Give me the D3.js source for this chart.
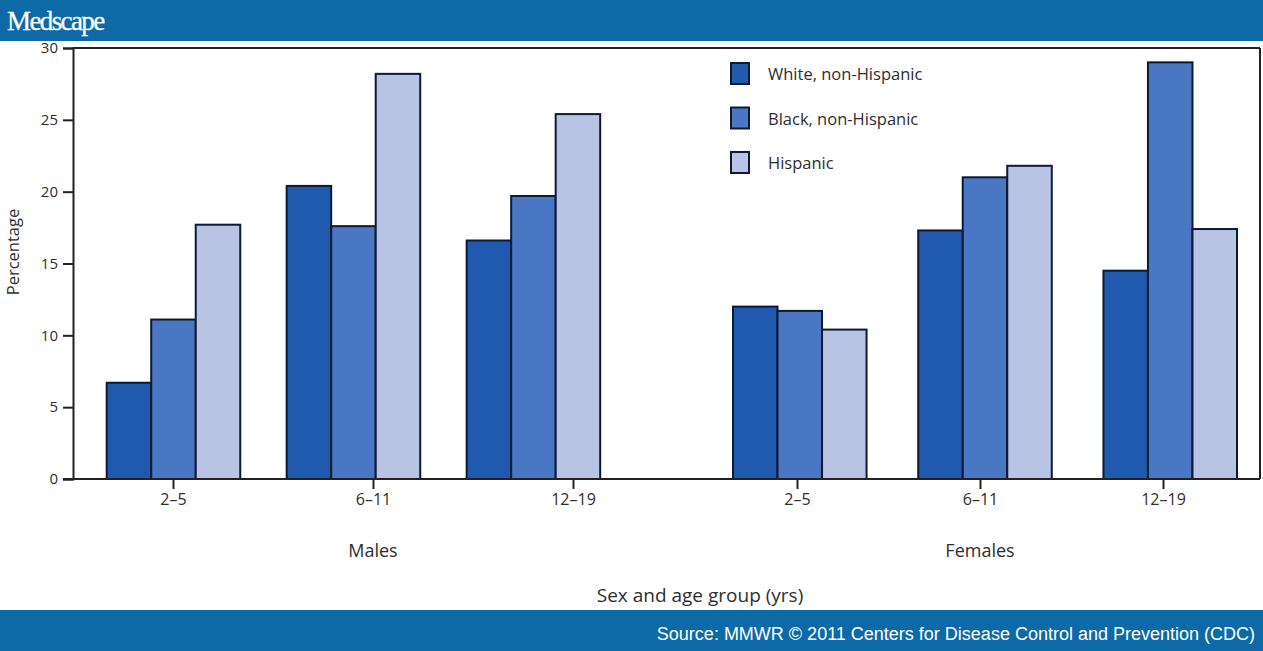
<!DOCTYPE html>
<html>
<head>
<meta charset="utf-8">
<script src="https://cdn.jsdelivr.net/npm/d3@7/dist/d3.min.js"></script>
<style>
  html, body { margin: 0; padding: 0; background: #fff; }
  svg { display: block; }
</style>
</head>
<body>
<svg id="chart" width="1263" height="651"></svg>
<script>
// ---- Data ----
const sexes = ["Males", "Females"];
const ageGroups = ["2–5", "6–11", "12–19"];
const seriesNames = ["White, non-Hispanic", "Black, non-Hispanic", "Hispanic"];
const whiteMales = [6.7, 20.4, 16.6];
const blackMales = [11.1, 17.6, 19.7];
const hispanicMales = [17.7, 28.2, 25.4];
const whiteFemales = [12.0, 17.3, 14.5];
const blackFemales = [11.7, 21.0, 29.0];
const hispanicFemales = [10.4, 21.8, 17.4];
const yTicks = [0, 5, 10, 15, 20, 25, 30];

const seriesBySex = {
  Males: [whiteMales, blackMales, hispanicMales],
  Females: [whiteFemales, blackFemales, hispanicFemales]
};
const colors = ["#1f5aae", "#4a77c3", "#b9c4e4"];

const svg = d3.select("#chart");
const W = 1263, H = 651;
const font = "'Open Sans', 'Noto Sans', sans-serif";
const textColor = "#2e2e2e";

// header & footer bands
svg.append("rect").attr("x", 0).attr("y", 0).attr("width", W).attr("height", 41).attr("fill", "#0d6aa7");
svg.append("text").attr("x", 7).attr("y", 30)
  .attr("font-family", "'Liberation Serif', 'DejaVu Serif', serif")
  .attr("font-size", 27).attr("fill", "#ffffff").attr("letter-spacing", -1.6)
  .attr("stroke", "#ffffff").attr("stroke-width", 0.3)
  .text("Medscape");
svg.append("rect").attr("x", 0).attr("y", 610).attr("width", W).attr("height", 41).attr("fill", "#0d6aa7");
svg.append("text").attr("x", 1255).attr("y", 640).attr("text-anchor", "end")
  .attr("font-family", "'Liberation Sans', Arial, sans-serif")
  .attr("font-size", 18).attr("fill", "#ffffff")
  .text("Source: MMWR © 2011 Centers for Disease Control and Prevention (CDC)");

// scales
const yTop = 48, yBase = 479, xLeft = 73, xRight = 1260;
const y = d3.scaleLinear().domain([0, 30]).range([yBase, yTop]);

const groupScale = {
  Males: d3.scaleBand().domain(ageGroups).range([106.7, 600.2]).paddingInner(0.258).paddingOuter(0),
  Females: d3.scaleBand().domain(ageGroups).range([733, 1237]).paddingInner(0.279).paddingOuter(0)
};
const tickScale = {
  Males: d3.scalePoint().domain(ageGroups).range([173, 573]),
  Females: d3.scalePoint().domain(ageGroups).range([797, 1163])
};

// frame (top and right)
svg.append("line").attr("x1", xLeft).attr("x2", xRight).attr("y1", yTop).attr("y2", yTop)
  .attr("stroke", "#222").attr("stroke-width", 2);
svg.append("line").attr("x1", xRight).attr("x2", xRight).attr("y1", yTop).attr("y2", yBase)
  .attr("stroke", "#222").attr("stroke-width", 2);

// bars
sexes.forEach(sex => {
  const gx = groupScale[sex];
  const inner = d3.scaleBand().domain(d3.range(seriesNames.length)).range([0, gx.bandwidth()]).padding(0);
  const rows = [];
  ageGroups.forEach((a, i) => {
    seriesBySex[sex].forEach((vals, s) => rows.push({ age: a, s: s, v: vals[i] }));
  });
  svg.append("g").selectAll("rect").data(rows).join("rect")
    .attr("x", d => gx(d.age) + inner(d.s))
    .attr("y", d => y(d.v))
    .attr("width", inner.bandwidth())
    .attr("height", d => y(0) - y(d.v))
    .attr("fill", d => colors[d.s])
    .attr("stroke", "#0c1a33")
    .attr("stroke-width", 2);
});

// y axis
const yAxis = svg.append("g").attr("transform", `translate(${xLeft},0)`)
  .call(d3.axisLeft(y).tickValues(yTicks).tickSize(10).tickPadding(5));
yAxis.select(".domain").attr("stroke", "#222").attr("stroke-width", 2);
yAxis.selectAll(".tick line").attr("stroke", "#222").attr("stroke-width", 2);
yAxis.selectAll(".tick text").attr("font-family", font).attr("font-size", 15).attr("fill", textColor);

// x baseline
svg.append("line").attr("x1", 63).attr("x2", xRight).attr("y1", yBase).attr("y2", yBase)
  .attr("stroke", "#222").attr("stroke-width", 2);

// x axes per sex
sexes.forEach(sex => {
  const ax = svg.append("g").attr("transform", `translate(0,${yBase})`)
    .call(d3.axisBottom(tickScale[sex]).tickSize(10).tickPadding(5));
  ax.select(".domain").remove();
  ax.selectAll(".tick line").attr("stroke", "#222").attr("stroke-width", 2);
  ax.selectAll(".tick text").attr("font-family", font).attr("font-size", 16).attr("fill", textColor);
  svg.append("text").attr("x", tickScale[sex](ageGroups[1])).attr("y", 557)
    .attr("text-anchor", "middle").attr("font-family", font).attr("font-size", 18).attr("fill", textColor)
    .text(sex);
});

// axis titles
svg.append("text").attr("x", 700).attr("y", 602).attr("text-anchor", "middle")
  .attr("font-family", font).attr("font-size", 19).attr("fill", textColor)
  .text("Sex and age group (yrs)");
svg.append("text").attr("transform", "translate(19,252) rotate(-90)").attr("text-anchor", "middle")
  .attr("font-family", font).attr("font-size", 16.5).attr("fill", textColor)
  .text("Percentage");

// legend
const legend = svg.append("g").attr("transform", "translate(731,63)");
seriesNames.forEach((name, i) => {
  const g = legend.append("g").attr("transform", `translate(0,${i * 44.5})`);
  g.append("rect").attr("x", 0).attr("y", 0).attr("width", 18).attr("height", 21)
    .attr("fill", colors[i]).attr("stroke", "#0c1a33").attr("stroke-width", 2);
  g.append("text").attr("x", 37).attr("y", 17).attr("font-family", font).attr("font-size", 16.5)
    .attr("fill", textColor).text(name);
});
</script>
</body>
</html>
